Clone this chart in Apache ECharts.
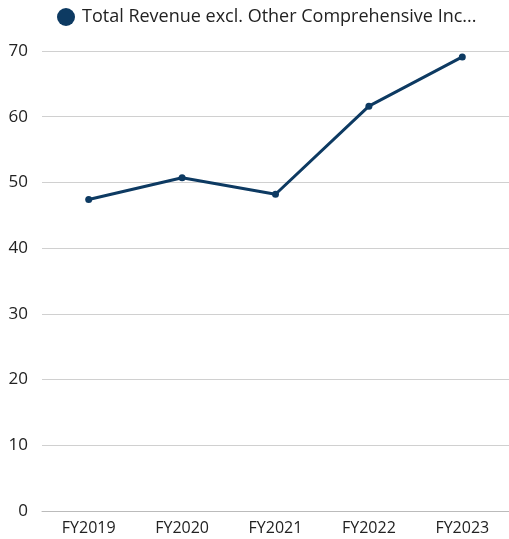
<!DOCTYPE html>
<html>
<head>
<meta charset="utf-8">
<script src="https://cdn.jsdelivr.net/npm/echarts@6/dist/echarts.min.js"></script>
<style>
  html, body { margin: 0; padding: 0; background: #fff; }
  #chart { width: 509px; height: 539px; }
</style>
</head>
<body>
<div id="chart"></div>
<script>
// Fiscal years and total revenue
const categories = ['FY2019', 'FY2020', 'FY2021', 'FY2022', 'FY2023'];
const revenue = [47.4, 50.7, 48.2, 61.6, 69.1];
const seriesName = 'Total Revenue excl. Other Comprehensive Income';
const legendLabel = 'Total Revenue excl. Other Comprehensive Inc...';
const yTicks = { min: 0, max: 70, interval: 10 };

const font = '"Open Sans", "Noto Sans", sans-serif';
const chart = echarts.init(document.getElementById('chart'));
chart.setOption({
  animation: false,
  textStyle: { fontFamily: font },
  legend: {
    top: 3,
    left: 52,
    itemWidth: 18,
    itemHeight: 18,
    icon: 'circle',
    formatter: () => legendLabel,
    textStyle: {
      fontSize: 18, color: '#222', fontFamily: font,
      padding: [0, 0, 0, 2]
    },
    data: [seriesName]
  },
  grid: { left: 42, top: 51, width: 470, height: 460 },
  xAxis: {
    type: 'category',
    data: categories,
    axisLine: { lineStyle: { color: '#bbb' } },
    axisTick: { show: false },
    axisLabel: { color: '#222', fontSize: 16, margin: 9, fontFamily: font }
  },
  yAxis: {
    type: 'value',
    min: yTicks.min,
    max: yTicks.max,
    interval: yTicks.interval,
    axisLabel: { color: '#222', fontSize: 17, margin: 14, fontFamily: font },
    splitLine: { lineStyle: { color: '#d0d0d0' } }
  },
  series: [{
    name: seriesName,
    type: 'line',
    data: revenue,
    color: '#0d3a62',
    symbol: 'circle',
    symbolSize: 7,
    lineStyle: { width: 3, color: '#0d3a62' },
    itemStyle: { color: '#0d3a62' }
  }]
});
</script>
</body>
</html>
